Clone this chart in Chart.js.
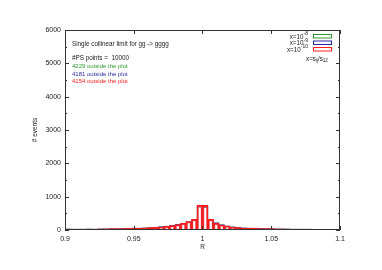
<!DOCTYPE html>
<html>
<head>
<meta charset="utf-8">
<script src="https://cdn.jsdelivr.net/npm/chart.js@4"></script>
<style>
  html, body { margin: 0; padding: 0; background: #fff; }
  #wrap { width: 382px; height: 270px; }
</style>
</head>
<body>
<div id="wrap"><canvas id="chart" width="382" height="270"></canvas></div>
<script>
// Bin centres of R (bin width 0.004, from 0.9 to 1.1)
let binCentres = [];
for (let i = 0; i < 50; i++) {
    binCentres.push(+(0.902 + 0.004 * i).toFixed(3));
}

// Events per bin, x = 10^-8 (green)
let eventsGreen = [30, 30, 28, 25, 30, 30, 35, 35, 40, 40, 45, 50, 55, 60, 65, 70, 80, 95, 115, 135, 160, 195, 245, 300,
    700, 690,
    310, 200, 150, 120, 95, 80, 65, 60, 55, 50, 45, 40, 35, 35, 30, 30, 28, 28, 25, 22, 22, 20, 20, 18];

// Events per bin, x = 10^-9 (blue)
let eventsBlue = [32, 30, 30, 28, 35, 30, 35, 38, 40, 42, 45, 52, 55, 60, 65, 75, 85, 100, 120, 140, 170, 210, 250, 310,
    720, 715,
    320, 220, 160, 125, 95, 80, 65, 60, 55, 50, 45, 42, 38, 35, 32, 30, 30, 28, 25, 22, 22, 20, 20, 18];

// Events per bin, x = 10^-10 (red)
let eventsRed = [30, 30, 30, 25, 30, 30, 35, 35, 40, 40, 45, 50, 55, 60, 60, 70, 80, 90, 110, 130, 160, 200, 250, 320,
    740, 740,
    320, 200, 150, 120, 90, 75, 60, 55, 50, 45, 40, 40, 35, 35, 30, 30, 25, 25, 25, 20, 20, 20, 20, 15];

let xTicks = [0.9, 0.95, 1, 1.05, 1.1];
let yTicks = [0, 1000, 2000, 3000, 4000, 5000, 6000];

let outsideCounts = ["4229", "4181", "4154"];
let seriesLabels = ["-8", "-9", "-10"];
let seriesColours = ["#2e9a2e", "#2a2aa8", "#ff2020"];

const FONT = "'Liberation Sans', Arial, sans-serif";

function points(values) {
    return values.map((v, i) => ({ x: binCentres[i], y: v }));
}

// Frame, inward ticks, axis titles and text in the plot
const gnuplotLook = {
    id: "gnuplotLook",
    afterDraw(chart) {
        const ctx = chart.ctx;
        const a = chart.chartArea;
        const xs = chart.scales.x;
        const ys = chart.scales.y;
        ctx.save();
        ctx.strokeStyle = "#333";
        ctx.lineWidth = 1;
        ctx.beginPath();
        ctx.rect(a.left + 0.5, a.top + 0.5, a.right - a.left - 1, a.bottom - a.top - 1);
        ctx.stroke();

        ctx.beginPath();
        for (let i = 0; i <= 12; i++) {
            const py = Math.round(ys.getPixelForValue(i * 500)) + 0.5;
            const len = i % 2 == 0 ? 4 : 2;
            ctx.moveTo(a.left, py); ctx.lineTo(a.left + len, py);
            ctx.moveTo(a.right, py); ctx.lineTo(a.right - len, py);
        }
        for (let i = 0; i < xTicks.length; i++) {
            const px = Math.round(xs.getPixelForValue(xTicks[i])) + 0.5;
            ctx.moveTo(px, a.bottom); ctx.lineTo(px, a.bottom - 4);
            ctx.moveTo(px, a.top); ctx.lineTo(px, a.top + 4);
        }
        ctx.stroke();

        // axis titles
        ctx.fillStyle = "#222";
        ctx.font = "6.5px " + FONT;
        ctx.textAlign = "center";
        ctx.textBaseline = "middle";
        ctx.fillText("R", (a.left + a.right) / 2, 247);
        ctx.save();
        ctx.translate(35, (a.top + a.bottom) / 2);
        ctx.rotate(-Math.PI / 2);
        ctx.fillText("# events", 0, 0);
        ctx.restore();

        // text block
        ctx.font = "6.3px " + FONT;
        ctx.textAlign = "left";
        ctx.fillText("Single collinear limit for gg -> gggg", 72, 44);
        ctx.fillText("#PS points =  10000", 72, 58);
        ctx.font = "6px " + FONT;
        for (let i = 0; i < outsideCounts.length; i++) {
            ctx.fillStyle = seriesColours[i];
            ctx.fillText(outsideCounts[i] + " outside the plot", 72, 66.5 + i * 7.6);
        }

        // key
        for (let i = 0; i < seriesLabels.length; i++) {
            const yy = 36 + i * 6.5;
            ctx.strokeStyle = seriesColours[i];
            ctx.lineWidth = 1;
            ctx.strokeRect(313.5, yy - 1.5, 18, 3.5);
            ctx.fillStyle = "#222";
            ctx.font = "5px " + FONT;
            ctx.textAlign = "left";
            const supW = ctx.measureText(seriesLabels[i]).width;
            ctx.font = "6.3px " + FONT;
            ctx.textAlign = "right";
            ctx.fillText("x=10", 308 - supW, yy + 1);
            ctx.font = "5px " + FONT;
            ctx.textAlign = "left";
            ctx.fillText(seriesLabels[i], 308 - supW, yy - 2);
        }
        ctx.fillStyle = "#222";
        ctx.textAlign = "left";
        ctx.font = "6.3px " + FONT;
        ctx.fillText("x=s", 306, 59);
        let w = ctx.measureText("x=s").width;
        ctx.font = "4.5px " + FONT;
        ctx.fillText("ij", 306 + w, 61);
        w += ctx.measureText("ij").width;
        ctx.font = "6.3px " + FONT;
        ctx.fillText("/s", 306 + w, 59);
        w += ctx.measureText("/s").width;
        ctx.font = "4.5px " + FONT;
        ctx.fillText("12", 306 + w, 61);
        ctx.restore();
    }
};

new Chart("chart", {
    type: "bar",
    data: {
        datasets: [{
            label: "x=10^-10",
            data: points(eventsRed),
            backgroundColor: "rgba(0,0,0,0)",
            borderColor: "#ff1a1a",
            borderWidth: 1,
        }, {
            label: "x=10^-10 shade",
            data: points(eventsRed),
            backgroundColor: "rgba(0,0,0,0)",
            borderColor: "rgba(255,140,140,0.5)",
            borderWidth: 1.8,
        }, {
            label: "x=10^-9",
            data: points(eventsBlue),
            backgroundColor: "rgba(0,0,0,0)",
            borderColor: "#2a2aa8",
            borderWidth: 1,
        }, {
            label: "x=10^-8",
            data: points(eventsGreen),
            backgroundColor: "rgba(255,255,255,1)",
            borderColor: "#2e9a2e",
            borderWidth: 1,
        }]
    },
    options: {
        responsive: false,
        animation: false,
        devicePixelRatio: 1,
        layout: { padding: { left: 0, right: 42, top: 30, bottom: 0 } },
        datasets: {
            bar: { grouped: false, barPercentage: 1, categoryPercentage: 1 }
        },
        plugins: {
            legend: { display: false },
            tooltip: { enabled: false },
        },
        scales: {
            x: {
                type: "linear",
                min: 0.9,
                max: 1.1,
                offset: false,
                afterBuildTicks: s => { s.ticks = xTicks.map(v => ({ value: v })); },
                afterFit: s => { s.height = 40; },
                grid: { display: false, drawTicks: false },
                border: { display: false },
                ticks: {
                    font: { family: FONT, size: 7 },
                    color: "#222",
                    padding: 5,
                    maxRotation: 0,
                    callback: v => String(+v.toFixed(2)),
                },
            },
            y: {
                min: 0,
                max: 6000,
                afterBuildTicks: s => { s.ticks = yTicks.map(v => ({ value: v })); },
                afterFit: s => { s.width = 65; },
                grid: { display: false, drawTicks: false },
                border: { display: false },
                ticks: {
                    font: { family: FONT, size: 7 },
                    color: "#222",
                    padding: 4,
                    callback: v => String(v),
                },
            }
        }
    },
    plugins: [gnuplotLook]
});
</script>
</body>
</html>
